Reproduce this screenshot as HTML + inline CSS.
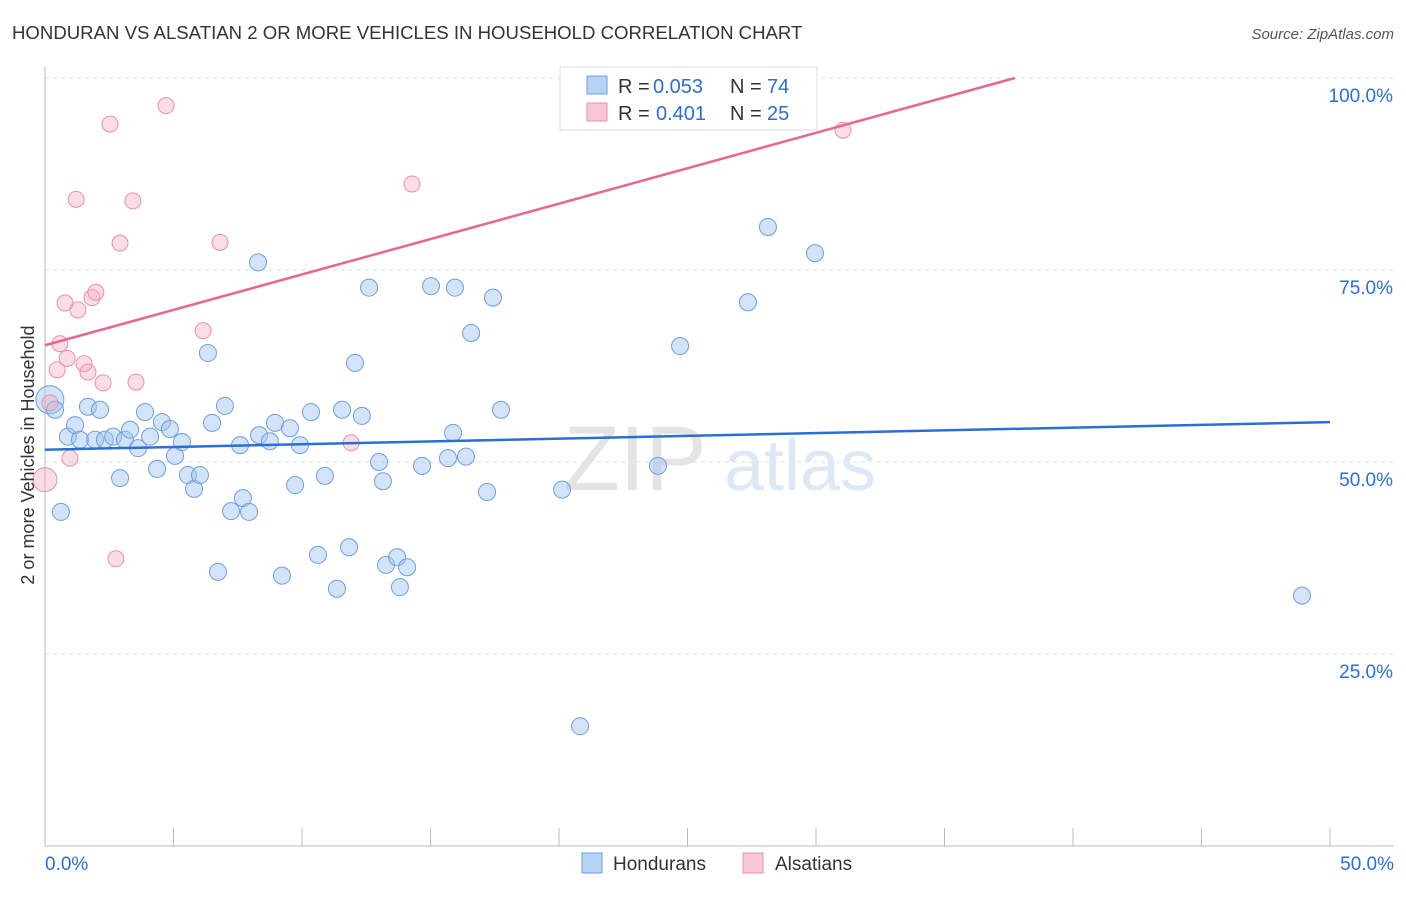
<!DOCTYPE html>
<html><head><meta charset="utf-8"><style>
body{margin:0;background:#fff;font-family:"Liberation Sans",sans-serif;}
svg text{font-family:"Liberation Sans",sans-serif;}
</style></head><body>
<svg id="chart" width="1406" height="892" xmlns="http://www.w3.org/2000/svg">
<text x="12" y="39" font-size="18.6" fill="#333">HONDURAN VS ALSATIAN 2 OR MORE VEHICLES IN HOUSEHOLD CORRELATION CHART</text>
<text x="1394" y="39" font-size="15" fill="#555" text-anchor="end" font-style="italic">Source: ZipAtlas.com</text>
<g id="grid"></g>
<g><text x="635" y="490" font-size="92" fill="#e4e4e4" text-anchor="middle" font-family="Liberation Serif,serif">ZIP</text><text x="800" y="490" font-size="72" fill="#dde8f6" text-anchor="middle">atlas</text></g>
<g id="marks"></g>
<text x="0" y="0" transform="translate(34,455) rotate(-90)" font-size="18" fill="#333" text-anchor="middle">2 or more Vehicles in Household</text>
<g>
<rect x="560" y="67" width="257" height="63" fill="#fff" stroke="#ddd"/>
<rect x="587" y="76" width="20" height="18" fill="#b8d2f4" stroke="#6e9ee0"/>
<text x="618" y="93" font-size="20" fill="#333">R =</text>
<text x="653" y="93" font-size="20" fill="#2a6fd6">0.053</text>
<text x="730" y="93" font-size="20" fill="#333">N =</text>
<text x="767" y="93" font-size="20" fill="#2a6fd6">74</text>
<rect x="587" y="103" width="20" height="18" fill="#f9c6d4" stroke="#e890a8"/>
<text x="618" y="120" font-size="20" fill="#333">R =</text>
<text x="656" y="120" font-size="20" fill="#2a6fd6">0.401</text>
<text x="730" y="120" font-size="20" fill="#333">N =</text>
<text x="767" y="120" font-size="20" fill="#2a6fd6">25</text>
</g>
<g>
<rect x="582" y="853" width="20" height="20" fill="#b8d2f4" stroke="#6e9ee0"/>
<text x="613" y="870" font-size="19" fill="#333">Hondurans</text>
<rect x="743" y="853" width="20" height="20" fill="#f9c6d4" stroke="#e890a8"/>
<text x="775" y="870" font-size="19" fill="#333">Alsatians</text>
</g>
</svg>
<script>
const yTicks=[25,50,75,100];
const xTickLabels=["0.0%","50.0%"];
const blueX=[0.19,0.39,0.62,0.89,1.17,1.36,1.67,1.95,2.14,2.33,2.65,2.92,3.11,3.31,3.62,3.89,4.09,4.36,4.55,4.86,5.06,5.33,5.56,5.80,6.03,6.34,6.50,6.73,7.00,7.24,7.59,7.70,7.94,8.29,8.33,8.75,8.95,9.22,9.53,9.73,9.92,10.35,10.62,10.89,11.36,11.56,11.83,12.06,12.33,12.61,13.00,13.15,13.27,13.70,13.81,14.09,14.67,15.02,15.68,15.88,15.95,16.38,16.58,17.20,17.43,17.74,20.12,20.82,23.85,24.71,27.35,28.13,29.96,48.91];
const blueY=[58.1,56.8,43.5,53.3,54.8,52.9,57.2,52.9,56.8,52.9,53.3,47.9,52.9,54.2,51.8,56.5,53.3,49.1,55.2,54.3,50.8,52.6,48.3,46.5,48.3,64.2,55.1,35.7,57.3,43.6,52.2,45.3,43.5,76.0,53.5,52.7,55.1,35.2,54.4,47.0,52.2,56.5,37.9,48.2,33.5,56.8,38.9,62.9,56.0,72.7,50.0,47.5,36.6,37.6,33.7,36.3,49.5,72.9,50.5,53.8,72.7,50.7,66.8,46.1,71.4,56.8,46.4,15.6,49.5,65.1,70.8,80.6,77.2,32.6];
const pinkX=[0,0.19,0.47,0.58,0.78,0.86,0.97,1.21,1.28,1.52,1.67,1.83,1.98,2.26,2.53,2.76,2.92,3.42,3.54,4.71,6.15,6.81,11.91,14.28,31.05];
const pinkY=[47.7,57.7,62.0,65.4,70.7,63.5,50.5,84.2,69.8,62.8,61.7,71.4,72.1,60.3,94.0,37.4,78.5,84.0,60.4,96.4,67.1,78.6,52.5,86.2,93.2];
const blueLine=[51.6,55.2];
const pinkLine=[65.2,100.0,37.74];
const NS="http://www.w3.org/2000/svg";
const X=v=>45+v/50*1285, Y=v=>846-v*7.68;
function mk(t,a,p){const e=document.createElementNS(NS,t);for(const k in a)e.setAttribute(k,a[k]);p.appendChild(e);return e;}
const g=document.getElementById('grid'), m=document.getElementById('marks');
mk('line',{x1:45,y1:67,x2:45,y2:846,stroke:'#bbb'},g);
mk('line',{x1:45,y1:846,x2:1394,y2:846,stroke:'#bbb'},g);
yTicks.forEach(t=>{
 const l=mk('line',{x1:45,y1:Y(t),x2:1394,y2:Y(t),stroke:'#ddd','stroke-dasharray':'4,4'},g);
 
 
 const tx=mk('text',{x:1393,y:Y(t)+24,'font-size':19,fill:'#2a6fd6','text-anchor':'end'},g);tx.textContent=t.toFixed(1)+'%';
 
 
});
for(let i=0;i<=10;i++){const x=X(i*5);mk('line',{x1:x,y1:828,x2:x,y2:846,stroke:'#bbb'},g);}
const xl0=mk('text',{x:45,y:870,'font-size':19,fill:'#2a6fd6'},g);xl0.textContent=xTickLabels[0];


const xl1=mk('text',{x:1394,y:870,'font-size':19,fill:'#2a6fd6','text-anchor':'end'},g);xl1.textContent=xTickLabels[1];


blueX.forEach((v,i)=>{const c=mk('circle',{cx:X(v),cy:Y(blueY[i]),r:i==0?14:8.5,fill:'rgba(160,196,240,0.45)',stroke:'#6e9ee0','stroke-width':1},m);
 
 });
pinkX.forEach((v,i)=>{const c=mk('circle',{cx:X(v),cy:Y(pinkY[i]),r:i==0?12:8,fill:'rgba(245,170,190,0.4)',stroke:'#e890a8','stroke-width':1},m);
 
 });
const bl=mk('line',{x1:X(0),y1:Y(blueLine[0]),x2:X(50),y2:Y(blueLine[1]),stroke:'#2a6fd6','stroke-width':2.5},m);


const pl=mk('line',{x1:X(0),y1:Y(pinkLine[0]),x2:X(pinkLine[2]),y2:Y(pinkLine[1]),stroke:'#e8668f','stroke-width':2.5},m);


</script>
</body></html>
